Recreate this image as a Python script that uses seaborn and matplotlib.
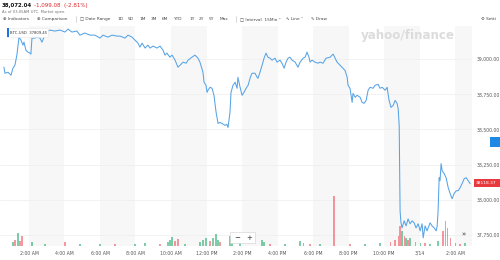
import matplotlib
matplotlib.use("Agg")
import matplotlib.pyplot as plt
from matplotlib.patches import Rectangle
import seaborn as sns
import pandas as pd

# ---------------- data ----------------
# hours since 00:00 on 3/13 (UTC)
times_h = [0.59, 0.65, 0.82, 0.99, 1.10, 1.21, 1.32, 1.44, 1.55, 1.66, 1.72, 1.83, 1.94, 2.06, 2.11, 2.17,
           2.34, 2.45, 2.62, 2.73, 2.85, 2.96, 3.18, 3.46, 3.75, 4.03, 4.20, 4.42, 4.70, 4.87, 5.15, 5.44,
           5.72, 6.00, 6.17, 6.45, 6.68, 6.96,
           7.13, 7.41, 7.58, 7.80, 7.97, 8.14, 8.25, 8.37, 8.54, 8.70, 8.82, 8.99, 9.21, 9.38, 9.55, 9.66,
           9.77, 9.94, 10.06, 10.23, 10.39, 10.51, 10.68, 10.85, 10.96, 11.18, 11.35, 11.52, 11.63, 11.80,
           11.86, 11.97, 12.03, 12.08, 12.20, 12.31, 12.42, 12.54, 12.65, 12.76, 12.87, 13.04, 13.15, 13.21,
           13.32, 13.38, 13.49, 13.61,
           13.72, 13.77, 13.89, 14.00, 14.11, 14.23, 14.34, 14.45, 14.56, 14.73, 14.85, 14.90, 15.01, 15.13,
           15.24, 15.35, 15.46, 15.58, 15.69, 15.86, 15.97, 16.14, 16.25, 16.37, 16.48, 16.59, 16.70, 16.82,
           16.99, 17.15, 17.27, 17.44, 17.55, 17.66, 17.77, 17.83, 17.94, 18.11, 18.28, 18.39, 18.56, 18.73,
           18.96, 19.13, 19.24, 19.35, 19.52, 19.69, 19.80,
           19.92, 19.97, 20.08, 20.14, 20.20, 20.25, 20.37, 20.48, 20.65, 20.76, 20.87, 20.99, 21.10, 21.21,
           21.38, 21.49, 21.66, 21.77, 21.89, 22.06, 22.17, 22.28, 22.39, 22.51, 22.62, 22.73, 22.79, 22.85,
           22.90, 22.95, 23.01, 23.13, 23.24, 23.35, 23.46, 23.58, 23.69, 23.80, 23.92, 24.03, 24.14, 24.20,
           24.31, 24.42, 24.59, 24.70, 24.82, 24.93, 24.99, 25.04, 25.10, 25.15, 25.21, 25.27, 25.38, 25.49,
           25.61, 25.72, 25.83, 25.94, 26.06, 26.17, 26.28, 26.39, 26.51, 26.62, 26.73, 26.85]

prices = [38943, 38900, 38907, 38886, 38936, 38957, 39029, 39157, 39136, 39100, 39121, 39064, 39050, 39043, 39036, 39150,
          39150, 39157, 39150, 39121, 39157, 39193, 39207, 39200, 39207, 39193, 39214, 39193, 39200, 39171, 39186, 39171,
          39171, 39150, 39171, 39157, 39171, 39164,
          39164, 39150, 39171, 39157, 39136, 39114, 39086, 39114, 39079, 39100, 39079, 39093, 39079, 39093, 39064, 39029,
          39043, 39014, 39029, 38993, 38943, 38957, 38979, 38971, 38993, 39014, 39029, 39007, 38979, 38907,
          38836, 38814, 38764, 38779, 38800, 38793, 38743, 38621, 38543, 38550, 38543, 38529, 38536, 38514,
          38621, 38764, 38814, 38836,
          38793, 38871, 38800, 38743, 38764, 38793, 38814, 38864, 38900, 38900, 38871, 38864, 38907, 38957,
          39007, 39043, 39014, 39007, 38993, 39007, 38979, 38993, 38971, 38936, 38979, 39007, 39014, 38993,
          38979, 38943, 38979, 39007, 39014, 39050, 39014, 38979, 38993, 38979, 38971, 38979, 38971, 39007,
          39014, 39036, 39007, 38979, 38957, 38936, 38920,
          38871, 38814, 38793, 38743, 38693, 38757, 38729, 38743, 38729, 38693, 38686, 38707, 38779, 38800,
          38793, 38814, 38821, 38793, 38800, 38779, 38800, 38707, 38657, 38671, 38707, 38686, 38650, 38529,
          37921, 37836, 37800, 37850, 37814, 37864, 37829, 37850, 37836, 37800, 37829, 37779, 37829, 37729,
          37814, 37779, 37836, 37814, 37800, 37779, 37814, 37921, 38157, 38136, 38257, 38207, 38186, 38157,
          38086, 38043, 38007, 38043, 38064, 38064, 38086, 38114, 38150, 38157, 38136, 38114]

vol_times = [1.10, 1.21, 1.38, 1.49, 1.61, 2.17, 2.90, 4.03, 4.87, 6.00, 6.85, 7.97, 8.54, 9.38, 9.83, 9.94,
             10.06, 10.23, 10.39, 10.79, 11.63, 11.80, 11.97, 12.20, 12.37, 12.54, 12.65, 12.76, 13.32, 13.44,
             13.89, 15.13, 15.24, 15.58, 16.42, 17.27, 17.44, 17.83, 18.39, 19.18, 20.08, 20.93, 21.77, 22.34,
             22.62, 22.79, 22.90, 23.01, 23.13, 23.24, 23.35, 23.46, 23.75, 24.03, 24.31, 24.59, 25.04, 25.32,
             25.44, 25.55, 25.72, 26.00, 26.28, 26.56]
vol_values = [40, 60, 130, 50, 100, 40, 20, 40, 20, 20, 20, 20, 30, 20, 40, 60,
              90, 50, 70, 20, 40, 60, 80, 50, 80, 120, 60, 40, 100, 60,
              30, 60, 40, 20, 20, 50, 30, 20, 20, 500, 20, 20, 30, 40,
              60, 100, 200, 150, 100, 80, 60, 80, 40, 30, 30, 20, 50, 150,
              250, 180, 80, 30, 20, 30]
vol_up = [1, 0, 1, 0, 0, 1, 1, 0, 1, 1, 0, 1, 1, 0, 1, 1,
          1, 0, 0, 1, 1, 1, 1, 0, 1, 1, 1, 0, 1, 1,
          1, 1, 1, 0, 1, 1, 1, 0, 1, 0, 0, 1, 1, 0,
          0, 0, 0, 1, 0, 1, 0, 1, 0, 1, 0, 1, 1, 0,
          0, 0, 0, 1, 0, 1]

price_ticks = [37750, 38000, 38250, 38500, 38750, 39000]
price_labels = ["37,750.00", "38,000.00", "38,250.00", "38,500.00", "38,750.00", "39,000.00"]
time_ticks = [2, 4, 6, 8, 10, 12, 14, 16, 18, 20, 22, 24, 26]
time_labels = ["2:00 AM", "4:00 AM", "6:00 AM", "8:00 AM", "10:00 AM", "12:00 PM", "2:00 PM",
               "4:00 PM", "6:00 PM", "8:00 PM", "10:00 PM", "3/14", "2:00 AM"]
band_starts = [2, 6, 10, 14, 18, 22, 26]

last_price = 38118.37

# ---------------- figure ----------------
sns.set_style("white")
plt.rcParams['font.family'] = ['DejaVu Sans']

W, H = 500, 260
fig = plt.figure(figsize=(5, 2.6), dpi=100)
fig.patch.set_facecolor("white")

def fx(x):
    return x / W

def fy(y):
    return 1 - y / H

ax_left, ax_right, ax_top, ax_bot = 0, 472, 26, 246
ax = fig.add_axes([fx(ax_left), fy(ax_bot), (ax_right - ax_left) / W, (ax_bot - ax_top) / H])
ax.set_xlim(0.37, 26.95)
ax.set_ylim(37671, 39236)

for b in band_starts:
    ax.axvspan(b, b + 2, color="#f7f7f7", lw=0, zorder=0)
for t in price_ticks:
    ax.axhline(t, color="#ededed", lw=0.5, zorder=0.5)

df = pd.DataFrame({"t": times_h, "price": prices})
sns.lineplot(data=df, x="t", y="price", ax=ax, color="#56a3e6", lw=0.75, zorder=3)

# volume on a twin axis
ax2 = ax.twinx()
ax2.set_ylim(0, 2200)
ax2.set_yticks([])
for s in ax2.spines.values():
    s.set_visible(False)
vcols = ["#3bb37a" if u else "#f0606a" for u in vol_up]
ax2.bar(vol_times, vol_values, width=0.07, color=vcols, alpha=0.65, lw=0, zorder=2)
ax2.set_xlim(0.37, 26.95)

# price axis on the right (after twinx, which resets it)
for s in ax.spines.values():
    s.set_visible(False)
ax.yaxis.tick_right()
ax.set_yticks(price_ticks)
ax.set_yticklabels(price_labels)
ax.set_xticks(time_ticks)
ax.set_xticklabels(time_labels)
ax.tick_params(axis="y", which="both", left=False, right=False, labelleft=False, labelright=True,
               length=0, pad=3, labelsize=3.3, labelcolor="#555555")
ax.tick_params(axis="x", length=0, pad=3.5, labelsize=3.3, labelcolor="#555555")
ax.set_xlabel("")
ax.set_ylabel("")

# ---------------- overlays ----------------
# header
fig.text(fx(2), fy(5), "38,072.04", fontsize=3.9, fontweight="bold", color="#111111", va="center", ha="left")
fig.text(fx(34), fy(5), "-1,099.08  (-2.81%)", fontsize=4.0, color="#e0282e", va="center", ha="left")
fig.text(fx(2), fy(11.5), "As of 03:05AM UTC. Market open.", fontsize=2.7, color="#777777", va="center", ha="left")

tb_y = fy(19)
tb = [(3, "\u2295 Indicators"), (37, "\u2295 Comparison"), (80, "\u25a1 Date Range"),
      (117, "1D"), (128, "5D"), (140, "1M"), (151, "3M"), (162, "6M"), (174, "YTD"),
      (189, "1Y"), (199, "2Y"), (209, "5Y"), (220, "Max"), (240, "\u25a1 Interval  15Min \u02c5"),
      (286, "\u223f Line \u02c5"), (311, "\u270e Draw"), (481, "\u2699 Setti")]
for x, s in tb:
    fig.text(fx(x), tb_y, s, fontsize=3.1, color="#444444", va="center", ha="left")
fig.add_artist(plt.Line2D([fx(76), fx(76)], [fy(16), fy(22)], color="#cccccc", lw=0.5))
fig.add_artist(plt.Line2D([fx(236), fx(236)], [fy(16), fy(22)], color="#cccccc", lw=0.5))

# legend box
fig.add_artist(Rectangle((fx(7), fy(37.5)), 41 / W, 9.5 / H, transform=fig.transFigure,
                         fc="white", ec="#e6e6e6", lw=0.4, zorder=5))
fig.add_artist(Rectangle((fx(7), fy(37.5)), 1.5 / W, 9.5 / H, transform=fig.transFigure,
                         fc="#1a73e8", ec="none", zorder=6))
fig.text(fx(10), fy(32.8), "BTC-USD  37809.45", fontsize=2.7, color="#333333", va="center", ha="left", zorder=7)

# watermark
fig.text(fx(408), fy(36), "yahoo/finance", fontsize=8.6, fontweight="bold", color="#dcdcdc",
         ha="center", va="center", zorder=1)

# price labels on the right
fig.add_artist(Rectangle((fx(474), fy(186.5)), 26 / W, 8 / H, transform=fig.transFigure,
                         fc="#e8393f", ec="none", zorder=6))
fig.text(fx(476), fy(182.5), f"{last_price:.2f}", fontsize=3.2, color="white", va="center", ha="left", zorder=7)
fig.add_artist(Rectangle((fx(490), fy(147)), 10 / W, 10 / H, transform=fig.transFigure,
                         fc="#1e88e5", ec="none", zorder=6))

# zoom control
fig.add_artist(Rectangle((fx(230), fy(243)), 25 / W, 11 / H, transform=fig.transFigure,
                         fc="white", ec="#cfcfcf", lw=0.4, zorder=6))
fig.text(fx(237), fy(237.5), "\u2212", fontsize=5, color="#333333", ha="center", va="center", zorder=7)
fig.text(fx(249), fy(237.5), "+", fontsize=5, color="#333333", ha="center", va="center", zorder=7)
fig.text(fx(463), fy(234.5), "\u00bb", fontsize=5, color="#333333", ha="center", va="center", zorder=7)

fig.savefig("out.png", dpi=100, facecolor="white")
